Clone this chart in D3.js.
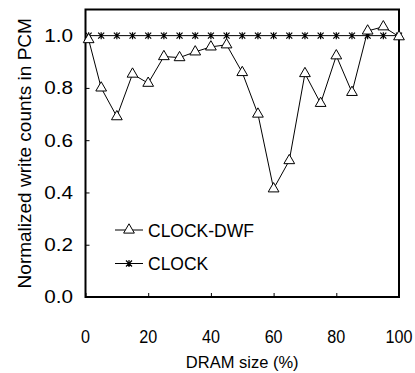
<!DOCTYPE html>
<html lang="en">

<head>
   <meta charset="UTF-8">
   <title>Normalized write counts in PCM</title>
   <script src="https://d3js.org/d3.v7.min.js"></script>
   <style>
      body {
         margin: 0;
         background: #fff;
      }

      text {
         font-family: Arial, 'Liberation Sans', sans-serif;
         fill: #000;
      }
   </style>
</head>

<body>
   <script>
      const dramSize = [1, 5, 10, 15, 20, 25, 30, 35, 40, 45, 50, 55, 60, 65, 70, 75, 80, 85, 90, 95, 100];
      const clockDwf = [0.985, 0.80, 0.69, 0.853, 0.818, 0.92, 0.916, 0.938, 0.957, 0.965, 0.859, 0.70, 0.414, 0.522, 0.855, 0.741, 0.923, 0.783, 1.018, 1.034, 0.996];
      const clock = [1, 1, 1, 1, 1, 1, 1, 1, 1, 1, 1, 1, 1, 1, 1, 1, 1, 1, 1, 1, 1];
      const xTicks = [0, 20, 40, 60, 80, 100];
      const yTicks = [0, 0.2, 0.4, 0.6, 0.8, 1.0];

      const width = 415;
      const height = 373;
      const plot = { left: 85.5, right: 399, top: 9.5, bottom: 297 };

      const svg = d3.select('body').append('svg')
         .attr('width', width)
         .attr('height', height);

      const x = d3.scaleLinear().domain([0, 100]).range([plot.left, plot.right]);
      const y = d3.scaleLinear().domain([0, 1.1]).range([plot.bottom, plot.top]);

      // axes: ticks point into the plot, labels drawn separately
      const xAxis = svg.append('g')
         .attr('transform', `translate(0, ${plot.bottom})`)
         .call(d3.axisTop(x).tickValues(xTicks).tickSize(4).tickFormat(''));
      xAxis.select('.domain').remove();

      const yAxis = svg.append('g')
         .attr('transform', `translate(${plot.left}, 0)`)
         .call(d3.axisRight(y).tickValues(yTicks).tickSize(4).tickFormat(''));
      yAxis.select('.domain').remove();

      svg.selectAll('.tick line').attr('stroke', '#000').attr('stroke-width', 1);

      svg.append('rect')
         .attr('x', plot.left)
         .attr('y', plot.top)
         .attr('width', plot.right - plot.left)
         .attr('height', plot.bottom - plot.top)
         .attr('fill', 'none')
         .attr('stroke', '#000')
         .attr('stroke-width', 2);

      svg.append('g').selectAll('text')
         .data(yTicks)
         .join('text')
         .attr('transform', d => `translate(73, ${y(d) + 6.4}) scale(1.15, 1)`)
         .attr('text-anchor', 'end')
         .attr('font-size', 18)
         .text(d => d.toFixed(1));

      svg.append('g').selectAll('text')
         .data(xTicks)
         .join('text')
         .attr('transform', d => `translate(${x(d)}, 343) scale(0.85, 1)`)
         .attr('text-anchor', 'middle')
         .attr('font-size', 19)
         .text(d => d);

      svg.append('text')
         .attr('x', (plot.left + plot.right) / 2)
         .attr('y', 368)
         .attr('text-anchor', 'middle')
         .attr('font-size', 16.5)
         .text('DRAM size (%)');

      svg.append('text')
         .attr('transform', `translate(31, ${(plot.top + plot.bottom) / 2}) rotate(-90)`)
         .attr('text-anchor', 'middle')
         .attr('font-size', 19)
         .text('Normalized write counts in PCM');

      const triangle = d3.symbol().type(d3.symbolTriangle).size(50);

      function asterisk(g) {
         g.append('path')
            .attr('d', 'M-3,-3L3,3M-3,3L3,-3M0,-3.5L0,3.5')
            .attr('stroke', '#000')
            .attr('stroke-width', 1.2)
            .attr('fill', 'none');
      }

      const line = d3.line()
         .x(d => x(d[0]))
         .y(d => y(d[1]));

      // CLOCK
      const clockData = dramSize.map((d, i) => [d, clock[i]]);
      svg.append('path')
         .attr('d', line(clockData))
         .attr('fill', 'none')
         .attr('stroke', '#000')
         .attr('stroke-width', 1);

      svg.append('g').selectAll('g')
         .data(clockData)
         .join('g')
         .attr('transform', d => `translate(${x(d[0])}, ${y(d[1])})`)
         .call(asterisk);

      // CLOCK-DWF
      const dwfData = dramSize.map((d, i) => [d, clockDwf[i]]);
      svg.append('path')
         .attr('d', line(dwfData))
         .attr('fill', 'none')
         .attr('stroke', '#000')
         .attr('stroke-width', 1);

      svg.append('g').selectAll('path')
         .data(dwfData)
         .join('path')
         .attr('transform', d => `translate(${x(d[0])}, ${y(d[1])})`)
         .attr('d', triangle)
         .attr('fill', '#fff')
         .attr('stroke', '#000')
         .attr('stroke-width', 1);

      // legend
      const legend = svg.append('g');
      const rows = [{ name: 'CLOCK-DWF', y: 230 }, { name: 'CLOCK', y: 263.5 }];

      legend.selectAll('line')
         .data(rows)
         .join('line')
         .attr('x1', 115)
         .attr('x2', 143)
         .attr('y1', d => d.y)
         .attr('y2', d => d.y)
         .attr('stroke', '#000')
         .attr('stroke-width', 1);

      legend.append('path')
         .attr('transform', `translate(129, ${rows[0].y})`)
         .attr('d', triangle)
         .attr('fill', '#fff')
         .attr('stroke', '#000');

      legend.append('g')
         .attr('transform', `translate(129, ${rows[1].y})`)
         .call(asterisk);

      legend.selectAll('text')
         .data(rows)
         .join('text')
         .attr('x', 148)
         .attr('y', d => d.y + 6.8)
         .attr('font-size', 17.5)
         .text(d => d.name);
   </script>
</body>

</html>
